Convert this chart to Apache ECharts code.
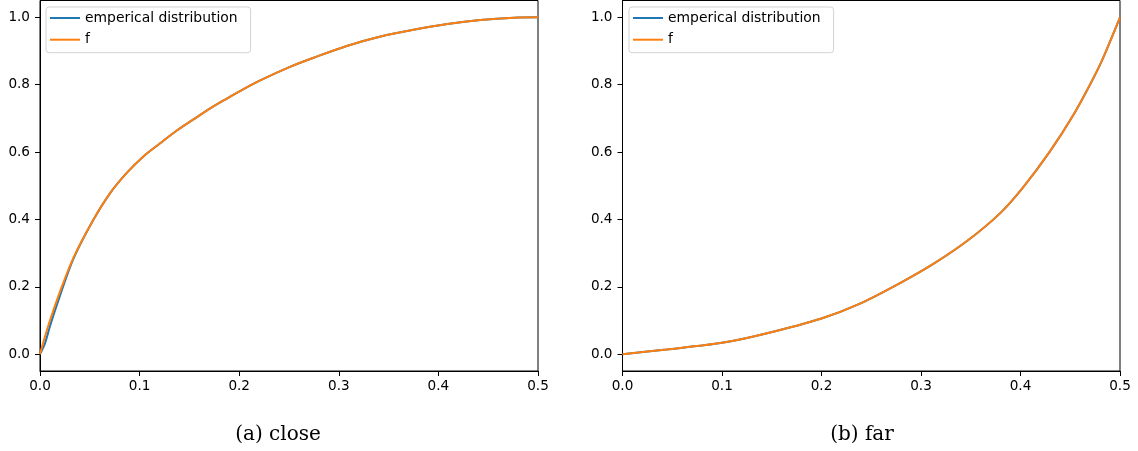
<!DOCTYPE html>
<html>
<head>
<meta charset="utf-8">
<script src="https://cdn.jsdelivr.net/npm/echarts@6/dist/echarts.min.js"></script>
<style>
html,body{margin:0;padding:0;background:#fff;}
#chart{width:1138px;height:451px;}
</style>
</head>
<body>
<div id="chart"></div>
<script>
// ---- data ----
var closeX      = [0, 0.005, 0.01, 0.02, 0.0335, 0.0536, 0.0704, 0.0871, 0.1038, 0.1206, 0.1374, 0.1541, 0.1709, 0.1876, 0.2043, 0.2211, 0.251, 0.2747, 0.308, 0.342, 0.375, 0.409, 0.442, 0.476, 0.5];
var closeF      = [0, 0.052, 0.100, 0.185, 0.286, 0.399, 0.478, 0.538, 0.587, 0.626, 0.664, 0.697, 0.730, 0.759, 0.787, 0.813, 0.853, 0.880, 0.915, 0.943, 0.963, 0.980, 0.992, 0.999, 1.0];
var closeEmp    = [0, 0.032, 0.083, 0.173, 0.283, 0.399, 0.478, 0.538, 0.587, 0.626, 0.664, 0.697, 0.730, 0.759, 0.787, 0.813, 0.853, 0.880, 0.915, 0.943, 0.963, 0.980, 0.992, 0.999, 1.0];
var farX        = [0, 0.0443, 0.1, 0.1443, 0.2, 0.2387, 0.2789, 0.3124, 0.3459, 0.3794, 0.4028, 0.4296, 0.4531, 0.4698, 0.4816, 0.5];
var farF        = [0, 0.014, 0.0336, 0.0614, 0.106, 0.150, 0.211, 0.268, 0.335, 0.418, 0.496, 0.602, 0.710, 0.800, 0.870, 1.0];
var farEmp      = [0, 0.014, 0.0336, 0.0614, 0.106, 0.150, 0.211, 0.268, 0.335, 0.418, 0.496, 0.602, 0.710, 0.800, 0.870, 1.0];
var yTicks      = [0, 0.2, 0.4, 0.6, 0.8, 1.0];
var seriesNames = ['emperical distribution', 'f'];
var panelTitles = ['(a) close', '(b) far'];

function pairs(xs, ys){ return xs.map(function(x,i){ return [x, ys[i]]; }); }

var BLUE = '#1f77b4', ORANGE = '#ff7f0e';
var grids = [
  {left: 40, top: 0.5, width: 498, height: 370.5},
  {left: 622.5, top: 0.5, width: 497.5, height: 370.5}
];

function xAx(i){
  return {
    type: 'value', gridIndex: i, min: 0, max: 0.5, interval: 0.1,
    axisLine: {show: true, onZero: false, lineStyle: {color: '#000', width: 1}},
    axisTick: {show: true, inside: false, length: 5, lineStyle: {color: '#000'}},
    axisLabel: {color: '#000', fontSize: 13.6, fontFamily: 'DejaVu Sans', margin: 8,
      formatter: function(v){ return v.toFixed(1); }},
    splitLine: {show: false}
  };
}
function yAx(i){
  return {
    type: 'value', gridIndex: i, min: -0.05, max: 1.05,
    axisLine: {show: true, onZero: false, lineStyle: {color: '#000', width: 1}},
    axisTick: {show: true, inside: false, length: 5, lineStyle: {color: '#000'}, customValues: yTicks},
    axisLabel: {color: '#000', fontSize: 13.6, fontFamily: 'DejaVu Sans', margin: 10,
      customValues: yTicks, formatter: function(v){ return v.toFixed(1); }},
    splitLine: {show: false}
  };
}
function line(name, idx, data, color){
  return {
    name: name, type: 'line', xAxisIndex: idx, yAxisIndex: idx,
    data: data, symbol: 'none', showSymbol: false, smooth: 0.3,
    lineStyle: {color: color, width: 2}, itemStyle: {color: color},
    animation: false, silent: true
  };
}
function legend(left){
  return {
    show: true, orient: 'vertical', left: left, top: 7,
    data: seriesNames,
    icon: 'rect',
    itemWidth: 30, itemHeight: 2, itemGap: 7.7,
    padding: [4, 13, 6, 4],
    borderColor: '#d3d3d3', borderWidth: 1, borderRadius: 3,
    backgroundColor: 'rgba(255,255,255,0.8)',
    textStyle: {color: '#000', fontSize: 13.9, fontFamily: 'DejaVu Sans', lineHeight: 14, padding: [0,0,0,0]},
    selectedMode: false
  };
}

var chart = echarts.init(document.getElementById('chart'), null, {renderer: 'canvas'});
chart.setOption({
  animation: false,
  backgroundColor: '#fff',
  grid: grids.map(function(g){ return Object.assign({show: true, borderColor: '#000', borderWidth: 1, backgroundColor: 'transparent'}, g); }),
  xAxis: [xAx(0), xAx(1)],
  yAxis: [yAx(0), yAx(1)],
  legend: [legend(46), legend(629)],
  series: [
    line(seriesNames[0], 0, pairs(closeX, closeEmp), BLUE),
    line(seriesNames[1], 0, pairs(closeX, closeF), ORANGE),
    line(seriesNames[0], 1, pairs(farX, farEmp), BLUE),
    line(seriesNames[1], 1, pairs(farX, farF), ORANGE)
  ],
  graphic: [
    {type: 'text', x: 278, y: 435, style: {text: panelTitles[0], fill: '#000', font: '20px "DejaVu Serif"', textAlign: 'center', textVerticalAlign: 'middle'}},
    {type: 'text', x: 862, y: 435, style: {text: panelTitles[1], fill: '#000', font: '20px "DejaVu Serif"', textAlign: 'center', textVerticalAlign: 'middle'}}
  ]
});
</script>
</body>
</html>
